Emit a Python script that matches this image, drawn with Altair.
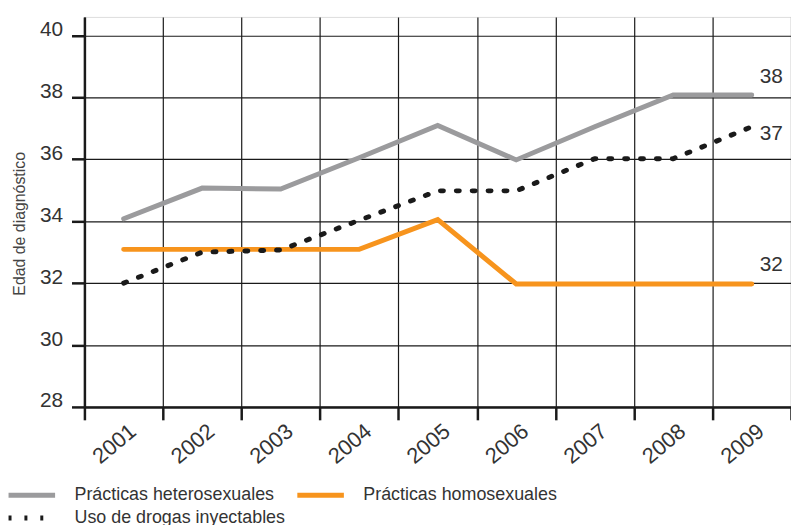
import altair as alt
import pandas as pd

years = ["2001", "2002", "2003", "2004", "2005", "2006", "2007", "2008", "2009"]
hetero = [34.08, 35.07, 35.04, 36.05, 37.09, 35.98, 37.05, 38.08, 38.08]
homo = [33.09, 33.09, 33.09, 33.09, 34.05, 31.97, 31.97, 31.97, 31.97]
drogas = [32.0, 33.0, 33.07, 34.03, 34.98, 34.98, 36.02, 36.02, 37.05]
series = ["Prácticas heterosexuales", "Prácticas homosexuales", "Uso de drogas inyectables"]
colors = ["#9b9b9d", "#f7941d"]
dot_color = "#1a1a1a"

rows = []
for name, vals in zip(series[:2], [hetero, homo]):
    for y, v in zip(years, vals):
        rows.append({"year": y, "value": v, "serie": name})
df = pd.DataFrame(rows)
df2 = pd.DataFrame({"year": years, "value": drogas, "serie2": series[2]})

FONT = "Liberation Sans"
W, H = 712, 393

xenc = alt.X("year:N", sort=years, title=None,
             scale=alt.Scale(paddingInner=0, paddingOuter=0),
             axis=alt.Axis(tickBand="extent", grid=True, gridColor="#1a1a1a", gridWidth=1.2,
                           domainColor="#1a1a1a", domainWidth=2.5, tickColor="#1a1a1a",
                           tickWidth=2.5, tickSize=13, labelAngle=-40, labelAlign="right",
                           labelBaseline="middle", labelPadding=8, labelOffset=9,
                           labelFont=FONT, labelFontSize=22, labelColor="#333333"))
yenc = alt.Y("value:Q", title="Edad de diagnóstico",
             scale=alt.Scale(domain=[28, 40.6], nice=False, zero=False),
             axis=alt.Axis(values=[28, 30, 32, 34, 36, 38, 40], grid=True, gridColor="#1a1a1a",
                           gridWidth=1.2, domainColor="#1a1a1a", domainWidth=2.5,
                           tickColor="#1a1a1a", tickWidth=2.5, tickSize=13, labelPadding=9,
                           labelBaseline="alphabetic", labelFont=FONT, labelFontSize=21,
                           labelColor="#333333", titleFont=FONT, titleFontSize=16,
                           titleFontWeight="normal", titleColor="#444444", titlePadding=12,
                           titleY=208))

common = dict(title=None, orient="none", legendX=-79, direction="horizontal",
              columnPadding=12, symbolType="stroke", symbolSize=2200, symbolStrokeWidth=5,
              labelOffset=17, labelFont=FONT, labelFontSize=18, labelLimit=0,
              labelColor="#333333", padding=0)

lines = alt.Chart(df).mark_line(strokeWidth=5, strokeCap="round", strokeJoin="miter").encode(
    x=xenc, y=yenc,
    color=alt.Color("serie:N", scale=alt.Scale(domain=series[:2], range=colors),
                    legend=alt.Legend(legendY=456, columns=2, **common)),
)

dotted = alt.Chart(df2).mark_line(strokeWidth=5, strokeCap="round", color=dot_color).encode(
    x=xenc, y=yenc,
    strokeDash=alt.StrokeDash("serie2:N",
                              scale=alt.Scale(domain=[series[2]], range=[[3, 13]]),
                              legend=alt.Legend(legendY=479, symbolStrokeColor=dot_color,
                                                **common)),
)

def end_label(data, dy):
    return alt.Chart(data[data["year"] == "2009"]).mark_text(
        align="left", baseline="middle", dx=8, dy=dy, font=FONT, fontSize=21, color="#333333"
    ).encode(x=alt.X("year:N", sort=years), y="value:Q", text=alt.Text("value:Q", format=".0f"))

chart = alt.layer(
    lines,
    dotted,
    end_label(df[df["serie"] == series[0]], -18),
    end_label(df[df["serie"] == series[1]], -19),
    end_label(df2, 7),
).properties(
    width=W, height=H,
    autosize=alt.AutoSizeParams(type="none"),
    padding={"left": 77, "top": 7, "right": 0, "bottom": 117},
).configure_view(stroke=None).configure(background="white")

chart.save("out.html", embed_options={"renderer": "svg", "actions": False})
